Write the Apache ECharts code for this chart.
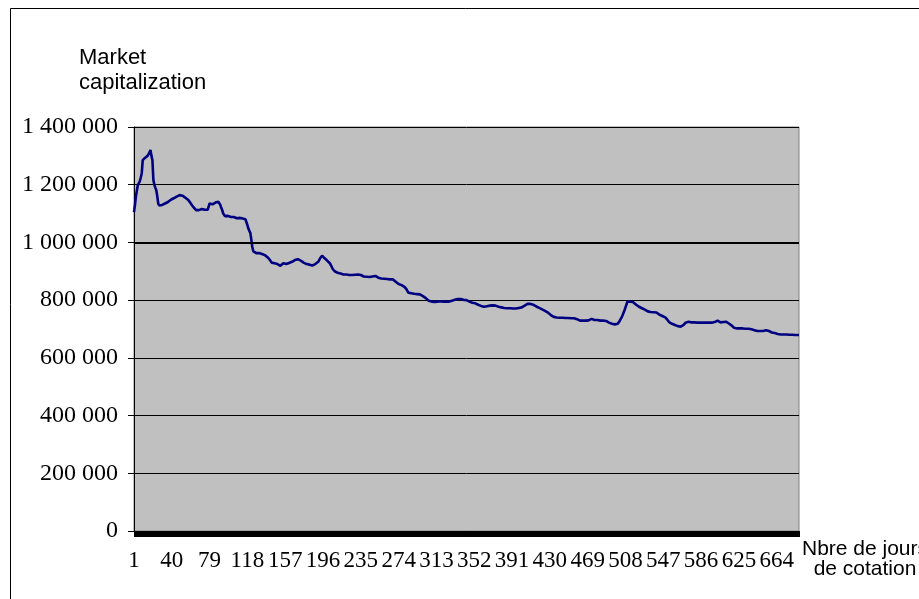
<!DOCTYPE html>
<html>
<head>
<meta charset="utf-8">
<script src="https://cdn.jsdelivr.net/npm/echarts@6/dist/echarts.min.js"></script>
<style>html,body{margin:0;padding:0;background:#fff}#c{width:919px;height:599px}</style>
</head>
<body>
<div id="c"></div>
<script>
// Market capitalization per trading day, in thousands
const capK = [
1105,1130,1160,1181,1199,1205,1212,1225,1240,1285,
1290,1292,1295,1297,1300,1305,1312,1320,1300,1285,
1216,1200,1190,1181,1160,1135,1128,1126,1128,1130,
1131,1133,1135,1138,1141,1140,1143,1146,1148,1150,
1151,1153,1155,1157,1159,1160,1162,1164,1165,1164,
1162,1161,1158,1155,1152,1150,1147,1143,1138,1133,
1128,1124,1120,1116,1112,1110,1109,1112,1114,1113,
1116,1114,1112,1113,1111,1110,1113,1112,1135,1134,
1136,1132,1135,1137,1138,1136,1139,1141,1138,1130,
1120,1112,1100,1094,1091,1093,1090,1092,1089,1091,
1088,1090,1087,1088,1085,1087,1084,1086,1083,1085,
1084,1086,1083,1085,1084,1080,1070,1060,1048,1040,
1033,1010,985,970,966,964,963,962,960,963,
961,962,960,958,957,956,953,950,948,945,
940,935,930,929,927,928,926,928,925,922,
920,919,921,925,928,927,924,925,925,927,
929,931,930,933,935,937,939,940,941,942,
940,938,937,937,934,930,928,927,925,926,
925,923,922,922,920,922,924,925,927,930,
933,937,945,950,954,952,947,944,941,938,
935,932,928,922,915,908,904,900,898,896,
895,894,893,892,891,890,889,890,889,889,
888,889,887,888,886,887,887,886,888,889,
888,889,890,889,887,885,883,882,881,880,
881,880,879,880,879,881,882,883,884,884,
882,880,878,877,876,875,876,874,874,873,
874,873,872,873,872,872,871,872,872,868,
864,860,858,856,855,852,852,850,848,846,
844,838,832,826,825,824,824,823,823,822,
823,822,821,821,820,820,818,816,814,812,
810,807,804,801,798,797,796,795,796,795,
794,795,796,795,794,795,796,795,794,795,
796,795,795,794,796,795,795,797,798,799,
800,801,802,803,804,805,806,804,803,802,
801,801,800,800,798,797,795,794,793,791,
790,789,789,787,786,784,782,781,780,779,
778,777,777,778,779,780,780,781,780,781,
782,781,781,781,779,778,777,776,775,775,
774,774,773,774,773,772,773,772,772,772,
772,771,772,772,771,772,772,773,773,774,
775,777,779,781,783,785,787,788,788,787,
787,786,784,782,780,778,777,775,773,771,
769,768,767,765,763,761,760,757,754,751,
748,746,744,742,741,740,740,739,740,739,
739,738,739,740,739,738,739,739,738,739,
738,737,738,737,737,737,736,734,732,730,
729,729,730,729,730,730,729,730,731,730,
731,731,735,734,733,731,731,730,731,730,
730,729,730,730,729,729,729,728,727,725,
722,720,719,718,717,717,716,716,716,718,
722,728,731,740,748,754,765,775,785,795,
796,796,795,795,795,793,790,787,784,781,
779,777,775,774,772,771,769,767,765,763,
761,760,760,759,759,758,758,758,758,757,
755,752,750,748,746,745,744,742,740,737,
733,728,724,721,720,718,717,715,714,713,
712,710,709,708,708,709,711,714,718,722,
725,726,725,724,724,723,723,724,723,723,
723,722,722,721,722,721,721,722,721,722,
722,723,723,722,723,723,722,723,723,724,
726,728,729,727,725,723,723,723,724,725,
725,725,725,722,718,715,712,711,707,704,
702,702,702,701,702,702,702,701,702,702,
702,701,701,702,701,701,700,699,698,697,
696,695,694,693,693,694,693,694,694,693,
694,695,696,696,695,693,691,690,688,688,
687,686,685,684,683,682,682,681,681,680,
681,680,680,681,680,680,680,679,680,680,
679,680,679,679,680,679,679
];
const days = capK.map((_, i) => String(i + 1));
const capValues = capK.map(v => v * 1000);
const yMin = 0, yMax = 1400000, yStep = 200000;
const refLevel = 1000000;
const yTitle = 'Market\ncapitalization';
const xTitle = 'Nbre de jours\nde cotation';

function fmt(v) { return String(v).replace(/\B(?=(\d{3})+(?!\d))/g, ' '); }

const chart = echarts.init(document.getElementById('c'), null, {renderer: 'canvas'});
chart.setOption({
  animation: false,
  backgroundColor: '#ffffff',
  grid: {left: 134, top: 127, width: 665, height: 404, show: true,
         backgroundColor: '#C0C0C0', borderColor: '#808080', borderWidth: 1},
  graphic: [
    {type: 'rect', shape: {x: 10.5, y: 8.5, width: 1000, height: 1000},
     style: {fill: 'none', stroke: '#000', lineWidth: 1}, silent: true, z: 0},
    {type: 'text', x: 79, y: 45,
     style: {text: yTitle, font: '22px "Liberation Sans"', fill: '#000', lineHeight: 25}},
    {type: 'text', x: 865, y: 539,
     style: {text: xTitle, font: '21px "Liberation Sans"', fill: '#000', lineHeight: 20, align: 'center'}}
  ],
  xAxis: {
    type: 'category', data: days, boundaryGap: false,
    axisLine: {lineStyle: {color: '#000', width: 1}},
    axisTick: {show: true, interval: 0, length: 6, lineStyle: {color: '#000'}},
    axisLabel: {interval: 38, margin: 18, color: '#000', fontFamily: 'Liberation Serif', fontSize: 23},
    splitLine: {show: false}
  },
  yAxis: {
    type: 'value', min: yMin, max: yMax, interval: yStep,
    axisLine: {show: true, lineStyle: {color: '#000', width: 1}},
    axisTick: {show: true, length: 6, lineStyle: {color: '#000'}},
    axisLabel: {margin: 16, color: '#000', fontFamily: 'Liberation Serif', fontSize: 24, formatter: fmt},
    splitLine: {show: true, lineStyle: {color: '#000', width: 1}}
  },
  series: [{
    type: 'line', data: capValues, showSymbol: false, symbol: 'none',
    lineStyle: {color: '#000080', width: 2.6}, itemStyle: {color: '#000080'},
    markLine: {silent: true, symbol: 'none', label: {show: false},
      lineStyle: {color: '#000', width: 2, type: 'solid'}, data: [{yAxis: refLevel}]}
  }]
});
</script>
</body>
</html>
